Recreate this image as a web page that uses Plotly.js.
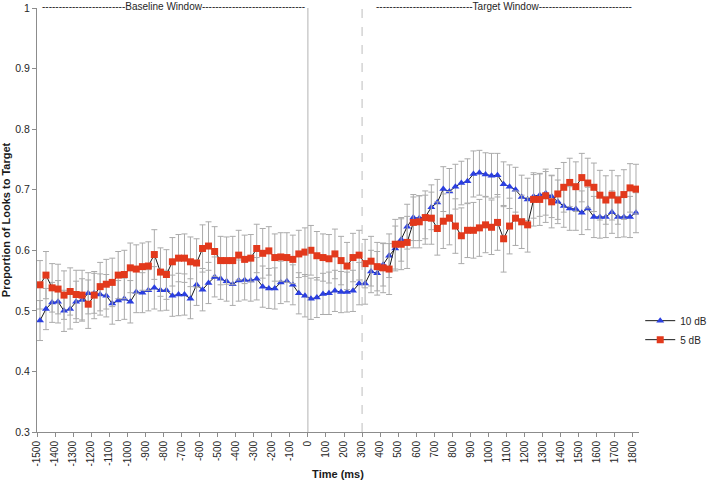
<!DOCTYPE html>
<html>
<head>
<meta charset="utf-8">
<script src="https://cdn.plot.ly/plotly-3.0.1.min.js"></script>
<style>html,body{margin:0;padding:0;background:#fff;}#chart{width:709px;height:482px;}</style>
</head>
<body>
<div id="chart"></div>
<script>
// Sample times (ms), one per category
const times = [-1500,-1467,-1433,-1400,-1367,-1333,-1300,-1267,-1233,-1200,-1167,-1133,-1100,-1067,-1033,-1000,-967,-933,-900,-867,-833,-800,-767,-733,-700,-667,-633,-600,-567,-533,-500,-467,-433,-400,-367,-333,-300,-267,-233,-200,-167,-133,-100,-67,-33,0,33,67,100,133,167,200,233,267,300,333,367,400,433,467,500,533,567,600,633,667,700,733,767,800,833,867,900,933,967,1000,1033,1067,1100,1133,1167,1200,1233,1267,1300,1333,1367,1400,1433,1467,1500,1533,1567,1600,1633,1667,1700,1733,1767,1800];

// 10 dB series
const db10 = [0.484,0.503,0.514,0.515,0.500,0.503,0.515,0.518,0.529,0.529,
0.527,0.525,0.512,0.517,0.520,0.515,0.531,0.530,0.534,0.538,
0.534,0.534,0.525,0.527,0.527,0.520,0.543,0.535,0.546,0.556,
0.553,0.549,0.544,0.550,0.551,0.550,0.553,0.540,0.537,0.537,
0.547,0.549,0.543,0.529,0.525,0.520,0.522,0.528,0.529,0.533,
0.531,0.531,0.533,0.545,0.545,0.565,0.562,0.576,0.591,0.603,
0.618,0.639,0.654,0.653,0.655,0.671,0.679,0.701,0.697,0.705,
0.711,0.714,0.726,0.728,0.725,0.723,0.724,0.709,0.705,0.700,
0.688,0.684,0.689,0.691,0.694,0.689,0.680,0.673,0.669,0.668,
0.662,0.669,0.655,0.655,0.655,0.663,0.655,0.655,0.655,0.662];
const db10Err = [0.033,0.034,0.033,0.035,0.034,0.033,0.034,0.035,0.034,0.033,
0.034,0.035,0.034,0.033,0.034,0.035,0.034,0.033,0.034,0.035,
0.034,0.033,0.034,0.035,0.034,0.033,0.034,0.035,0.034,0.033,
0.034,0.033,0.035,0.034,0.033,0.034,0.035,0.034,0.033,0.034,
0.035,0.034,0.033,0.034,0.035,0.034,0.033,0.034,0.035,0.034,
0.034,0.033,0.034,0.035,0.034,0.035,0.036,0.035,0.036,0.037,
0.036,0.037,0.038,0.037,0.036,0.037,0.038,0.037,0.038,0.037,
0.036,0.037,0.038,0.037,0.036,0.037,0.036,0.037,0.036,0.037,
0.036,0.035,0.036,0.035,0.036,0.035,0.036,0.035,0.036,0.035,
0.036,0.035,0.034,0.035,0.034,0.035,0.034,0.033,0.034,0.033];

// 5 dB series
const db5 = [0.543,0.559,0.538,0.536,0.526,0.532,0.527,0.526,0.511,0.526,
0.540,0.544,0.547,0.559,0.560,0.571,0.569,0.573,0.574,0.593,
0.564,0.560,0.581,0.587,0.587,0.581,0.579,0.603,0.607,0.598,
0.583,0.583,0.583,0.592,0.585,0.587,0.603,0.595,0.599,0.588,
0.589,0.588,0.585,0.594,0.597,0.600,0.591,0.588,0.586,0.594,
0.583,0.574,0.588,0.592,0.578,0.582,0.573,0.571,0.569,0.610,
0.610,0.613,0.646,0.647,0.654,0.653,0.636,0.648,0.653,0.640,
0.624,0.633,0.633,0.637,0.642,0.638,0.646,0.619,0.640,0.653,
0.647,0.642,0.684,0.684,0.690,0.680,0.693,0.704,0.712,0.705,
0.720,0.711,0.704,0.691,0.683,0.691,0.683,0.692,0.703,0.701];
const db5Err = [0.040,0.039,0.040,0.041,0.040,0.039,0.040,0.041,0.040,0.039,
0.040,0.041,0.040,0.039,0.040,0.041,0.040,0.039,0.040,0.041,
0.040,0.041,0.040,0.039,0.040,0.041,0.040,0.039,0.040,0.041,
0.040,0.039,0.040,0.041,0.040,0.039,0.040,0.041,0.040,0.039,
0.040,0.041,0.040,0.039,0.040,0.041,0.040,0.039,0.040,0.041,
0.040,0.039,0.040,0.041,0.040,0.041,0.040,0.041,0.042,0.041,
0.042,0.043,0.042,0.043,0.044,0.043,0.044,0.045,0.044,0.045,
0.046,0.045,0.046,0.047,0.046,0.045,0.046,0.055,0.046,0.045,
0.044,0.045,0.044,0.043,0.044,0.043,0.042,0.041,0.040,0.041,
0.040,0.041,0.040,0.041,0.040,0.041,0.040,0.041,0.040,0.041];

// Tick labels (ms)
const tickLabels = [-1500,-1400,-1300,-1200,-1100,-1000,-900,-800,-700,-600,-500,-400,-300,-200,-100,0,100,200,300,400,500,600,700,800,900,1000,1100,1200,1300,1400,1500,1600,1700,1800];
const yTicks = [0.3,0.4,0.5,0.6,0.7,0.8,0.9,1];

// Excel-style category axis: ticks sit on category boundaries (half a step before each sample)
const halfStep = 100 / 6;
const tickPos = tickLabels.map(t => t - halfStep);
const xRange = [times[0] - halfStep, times[times.length - 1] + halfStep];
const baselineLine = tickPos[tickLabels.indexOf(0)];
const targetLine = tickPos[tickLabels.indexOf(300)];

const font = 'Liberation Sans, Arial, sans-serif';

const errStyle = (arr) => ({type: 'data', array: arr, visible: true, color: '#ababab', thickness: 1, width: 3});

const traces = [
  {
    x: times, y: db10, name: '10 dB', type: 'scatter', mode: 'lines+markers',
    line: {color: '#1a1a1a', width: 1},
    marker: {symbol: 'triangle-up', size: 7, color: '#2b3fe0', line: {width: 0}},
    error_y: errStyle(db10Err)
  },
  {
    x: times, y: db5, name: '5 dB', type: 'scatter', mode: 'lines+markers',
    line: {color: '#1a1a1a', width: 1},
    marker: {symbol: 'square', size: 7, color: '#e2391c', line: {width: 0}},
    error_y: errStyle(db5Err)
  }
];

const dashes = n => '-'.repeat(n);

const layout = {
  width: 709, height: 482,
  margin: {l: 37, r: 70, t: 8, b: 50, autoexpand: false},
  paper_bgcolor: '#ffffff', plot_bgcolor: '#ffffff',
  font: {family: font, size: 10, color: '#262626'},
  showlegend: true,
  legend: {
    xref: 'container', yref: 'container',
    x: 0.903, xanchor: 'left', y: 0.315, yanchor: 'middle',
    font: {family: font, size: 10, color: '#262626'},
    itemwidth: 30, bgcolor: 'rgba(0,0,0,0)', tracegroupgap: 0
  },
  xaxis: {
    type: 'linear', range: xRange, automargin: false,
    tickmode: 'array', tickvals: tickPos, ticktext: tickLabels.map(String),
    tickangle: -90, ticks: 'outside', ticklen: 4, tickcolor: '#8c8c8c',
    showline: true, linecolor: '#8c8c8c', linewidth: 1,
    showgrid: false, zeroline: false,
    tickfont: {family: font, size: 10, color: '#262626'},
    title: {text: '<b>Time (ms)</b>', font: {family: font, size: 11, color: '#1a1a1a'}, standoff: 4}
  },
  yaxis: {
    range: [0.3, 1], automargin: false,
    tickmode: 'array', tickvals: yTicks, ticktext: yTicks.map(String),
    ticks: 'outside', ticklen: 4, tickcolor: '#8c8c8c',
    showline: true, linecolor: '#8c8c8c', linewidth: 1,
    showgrid: false, zeroline: false,
    tickfont: {family: font, size: 10.5, color: '#262626'},
    title: {text: '<b>Proportion of Looks to Target</b>', font: {family: font, size: 11, color: '#1a1a1a'}, standoff: 6}
  },
  shapes: [
    {type: 'line', xref: 'x', yref: 'y', x0: baselineLine, x1: baselineLine, y0: 0.3, y1: 1,
     line: {color: '#b3b3b3', width: 1}},
    {type: 'line', xref: 'x', yref: 'y', x0: targetLine, x1: targetLine, y0: 0.3, y1: 1,
     line: {color: '#bdbdbd', width: 1, dash: 'dash'}}
  ],
  annotations: [
    {xref: 'paper', yref: 'paper', x: 0.226, y: 1, yshift: 2, xanchor: 'center', yanchor: 'middle',
     showarrow: false, text: dashes(25) + 'Baseline Window' + dashes(31),
     font: {family: font, size: 10, color: '#262626'}},
    {xref: 'paper', yref: 'paper', x: 0.775, y: 1, yshift: 2, xanchor: 'center', yanchor: 'middle',
     showarrow: false, text: dashes(29) + 'Target Window' + dashes(28),
     font: {family: font, size: 10, color: '#262626'}}
  ]
};

Plotly.newPlot('chart', traces, layout, {displayModeBar: false, staticPlot: true});
</script>
</body>
</html>
